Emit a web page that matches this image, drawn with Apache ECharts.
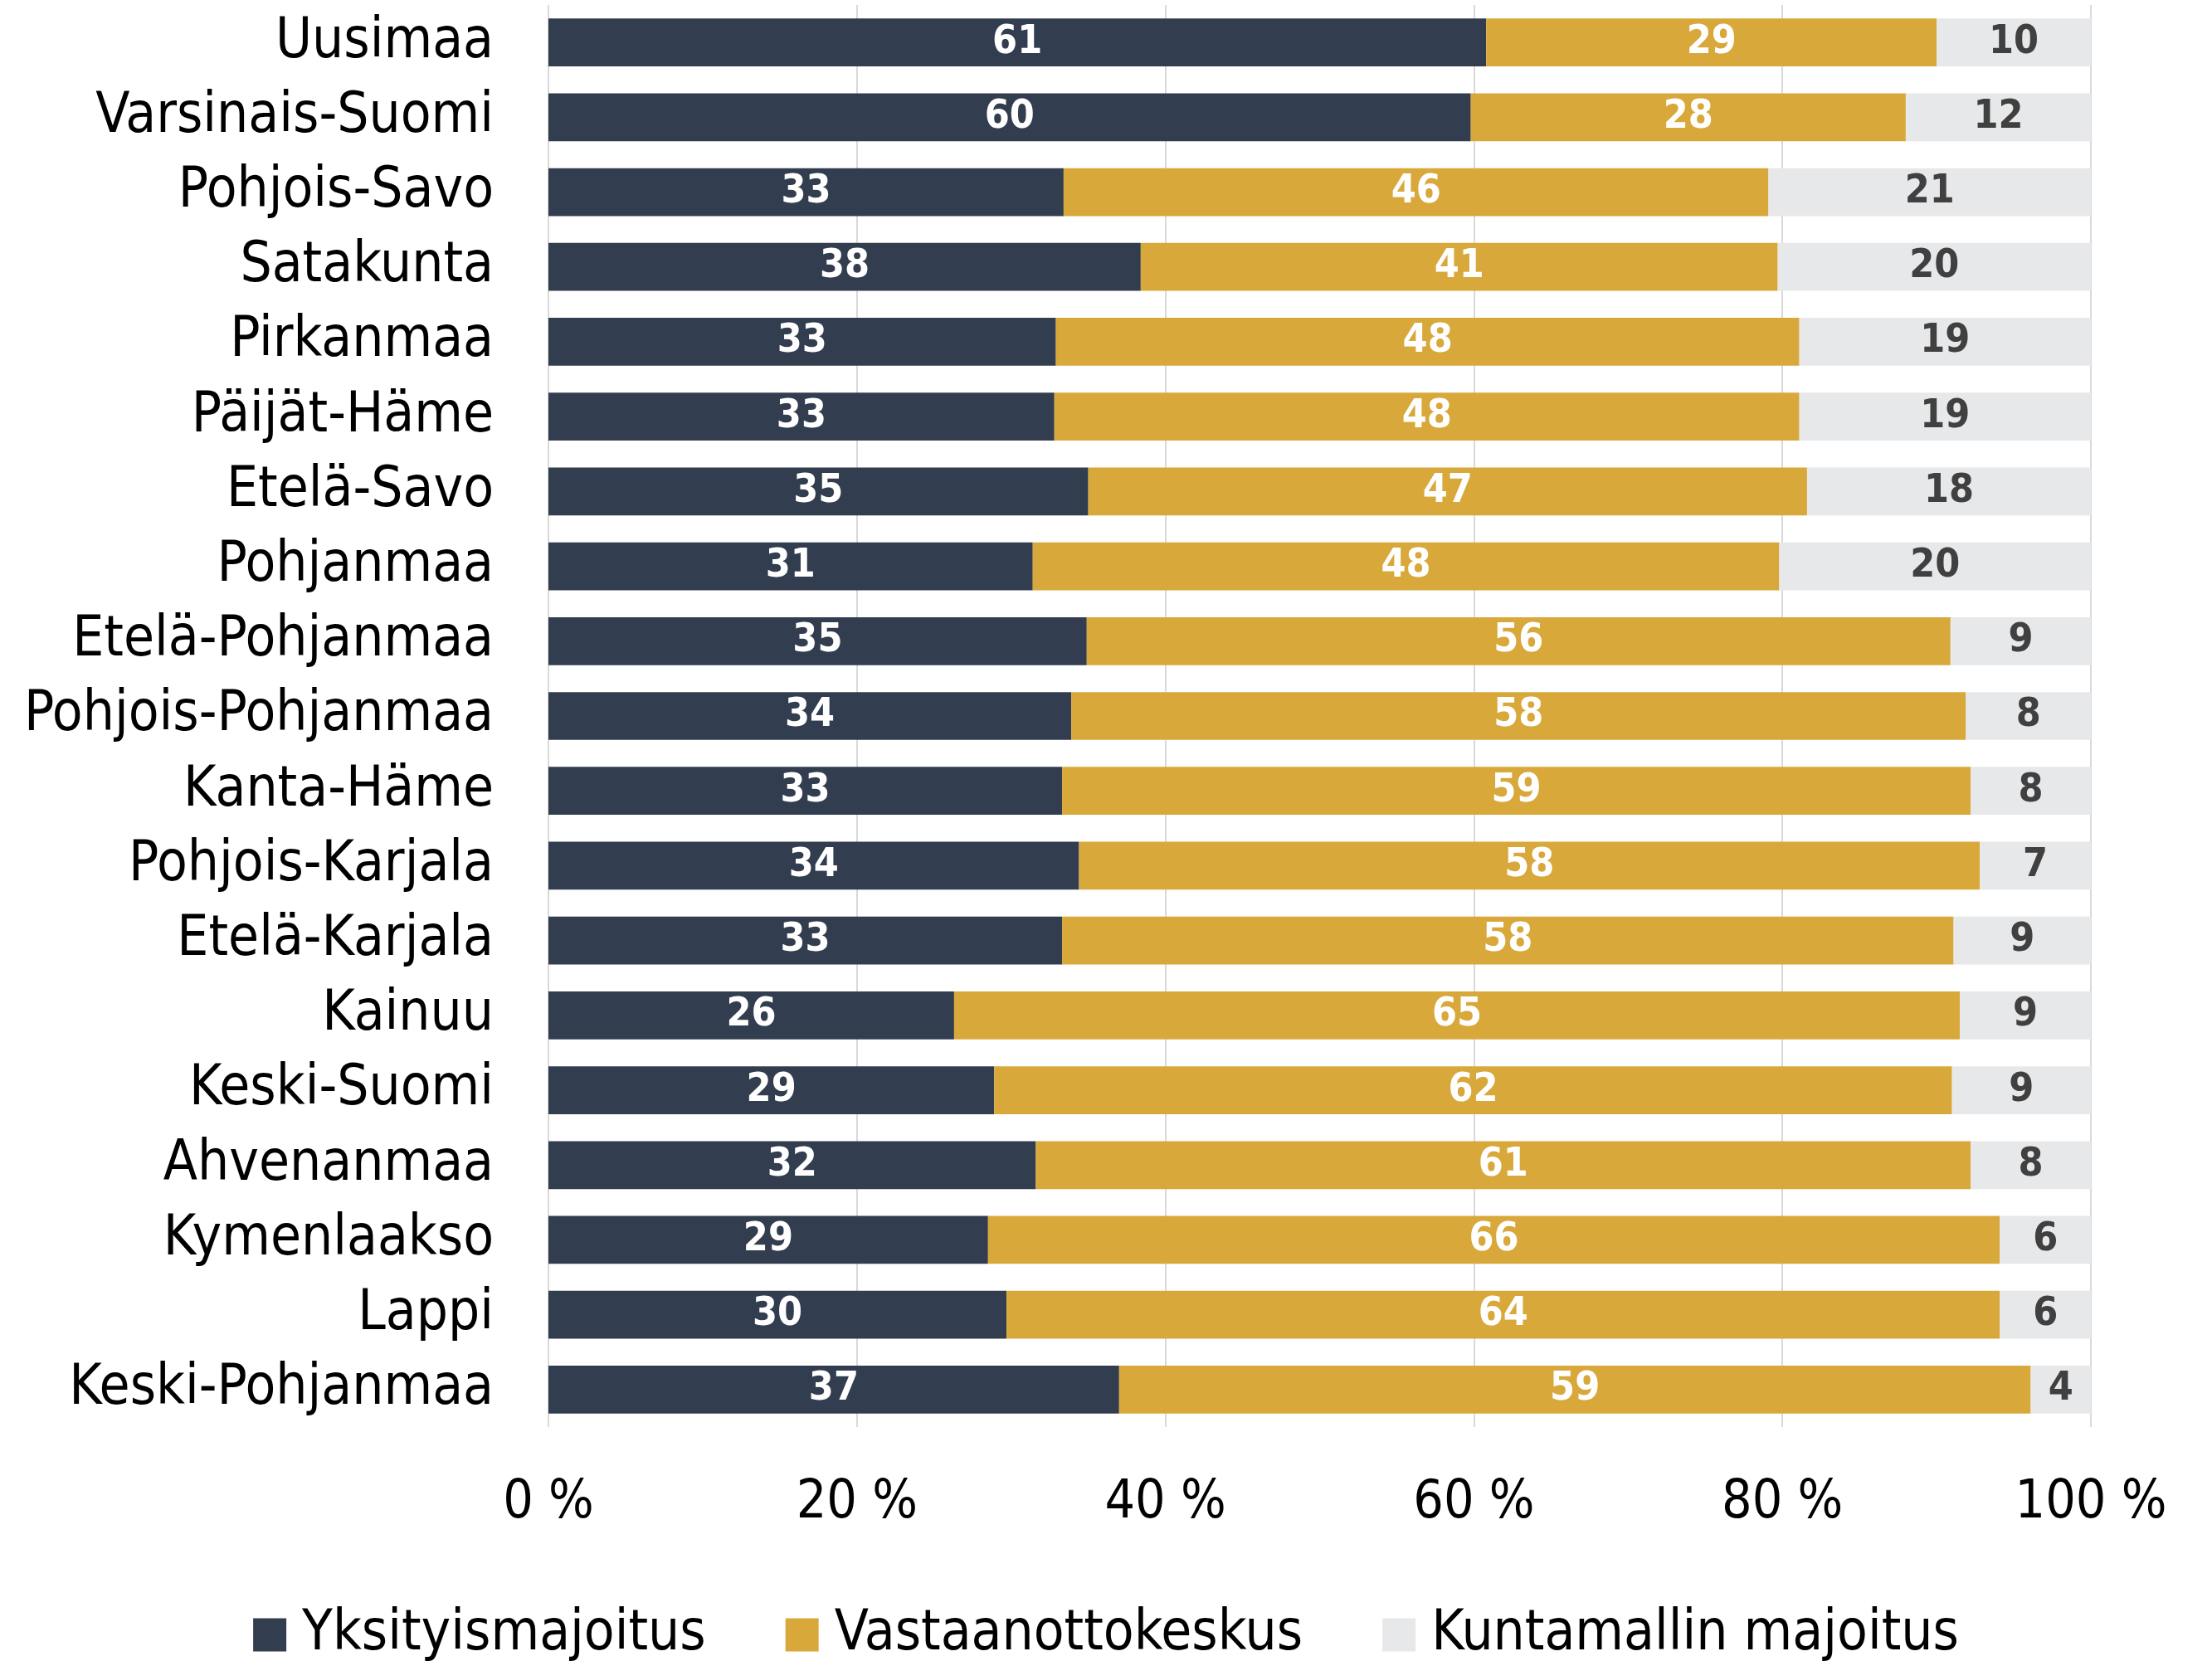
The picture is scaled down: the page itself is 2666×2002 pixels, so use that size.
<!DOCTYPE html>
<html>
<head>
<meta charset="utf-8">
<script src="https://cdn.jsdelivr.net/npm/echarts@6/dist/echarts.min.js"></script>
<style>
  html, body { margin: 0; padding: 0; background: #fff; }
  #chart { width: 2666px; height: 2002px; }
</style>
</head>
<body>
<div id="chart"></div>
<script>
// Alueet ylhäältä alas
const regions = [
  'Uusimaa', 'Varsinais-Suomi', 'Pohjois-Savo', 'Satakunta', 'Pirkanmaa',
  'Päijät-Häme', 'Etelä-Savo', 'Pohjanmaa', 'Etelä-Pohjanmaa', 'Pohjois-Pohjanmaa',
  'Kanta-Häme', 'Pohjois-Karjala', 'Etelä-Karjala', 'Kainuu', 'Keski-Suomi',
  'Ahvenanmaa', 'Kymenlaakso', 'Lappi', 'Keski-Pohjanmaa'
];

// Osuudet prosentteina
const yksityis = [60.8, 59.8, 33.4, 38.4, 32.9, 32.8, 35.0, 31.4, 34.9, 33.9,
  33.3, 34.4, 33.3, 26.3, 28.9, 31.6, 28.5, 29.7, 37.0];
const vastaanotto = [29.2, 28.2, 45.7, 41.3, 48.2, 48.3, 46.6, 48.4, 56.0, 58.0,
  58.9, 58.4, 57.8, 65.2, 62.1, 60.6, 65.6, 64.4, 59.1];
const kuntamalli = [10.0, 12.0, 20.9, 20.3, 18.9, 18.9, 18.4, 20.2, 9.1, 8.1,
  7.8, 7.2, 8.9, 8.6, 9.0, 7.8, 5.9, 5.9, 3.9];

const seriesNames = ['Yksityismajoitus', 'Vastaanottokeskus', 'Kuntamallin majoitus'];
const seriesColors = ['#323e4f', '#d9a83b', '#e7e8ea'];
const labelColors = ['#ffffff', '#ffffff', '#404040'];

const FONT = '"DejaVu Sans Condensed", "Liberation Sans", sans-serif';

const chart = echarts.init(document.getElementById('chart'));

const makeSeries = (name, data, i) => ({
  name,
  type: 'bar',
  stack: 'total',
  barWidth: '64%',
  data,
  itemStyle: { color: seriesColors[i] },
  label: {
    show: true,
    position: 'inside',
    formatter: (p) => Math.round(p.value),
    color: labelColors[i],
    fontFamily: FONT,
    fontWeight: 'bold',
    fontSize: 48,
  },
});

chart.setOption({
  animation: false,
  grid: {
    left: 661,
    right: 146,
    top: 6,
    bottom: 282,
    containLabel: false,
  },
  legend: {
    data: seriesNames,
    left: 'center',
    top: 1932,
    icon: 'rect',
    itemWidth: 40,
    itemHeight: 40,
    itemGap: 96,
    textStyle: {
      fontFamily: FONT,
      fontSize: 67,
      color: '#000',
      padding: [0, 0, 0, 14],
    },
  },
  xAxis: {
    type: 'value',
    min: 0,
    max: 100,
    interval: 20,
    axisLine: { show: false },
    axisTick: { show: false },
    splitLine: { lineStyle: { color: '#d9d9d9', width: 2 } },
    axisLabel: {
      formatter: '{value} %',
      fontFamily: FONT,
      fontSize: 64,
      color: '#000',
      margin: 60,
    },
  },
  yAxis: {
    type: 'category',
    inverse: true,
    data: regions,
    axisLine: { show: false },
    axisTick: { show: false },
    axisLabel: {
      interval: 0,
      fontFamily: FONT,
      fontSize: 67,
      color: '#000',
      margin: 66,
    },
  },
  series: [
    makeSeries(seriesNames[0], yksityis, 0),
    makeSeries(seriesNames[1], vastaanotto, 1),
    makeSeries(seriesNames[2], kuntamalli, 2),
  ],
});
</script>
</body>
</html>
